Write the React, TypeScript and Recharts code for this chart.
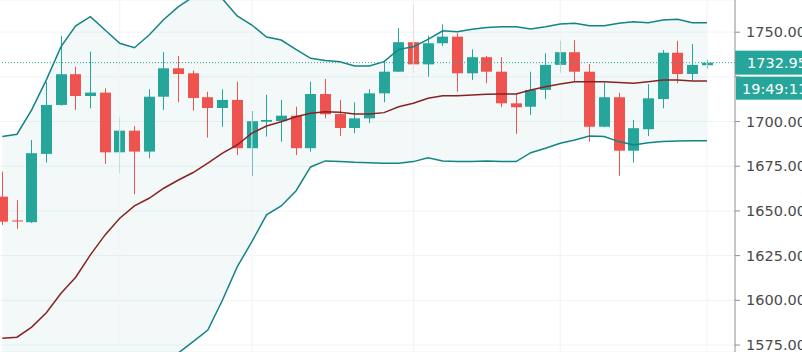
import {
  ComposedChart,
  Bar,
  Line,
  Area,
  XAxis,
  YAxis,
  CartesianGrid,
  ReferenceLine,
} from 'recharts';

// OHLC, one entry per candle
const opens = [
  1658.0, 1644.7, 1643.7, 1681.9, 1709.3, 1726.5, 1714.3, 1716.2, 1682.8, 1694.9,
  1683.2, 1713.9, 1729.8, 1727.0, 1713.6, 1707.6, 1712.1, 1685.1, 1699.9, 1700.3,
  1703.3, 1685.1, 1715.4, 1704.2, 1696.4, 1701.8, 1715.8, 1727.9, 1744.4, 1732.0,
  1743.8, 1747.5, 1727.0, 1736.0, 1727.9, 1710.2, 1708.3, 1717.7, 1731.7, 1738.8,
  1727.9, 1697.1, 1713.6, 1683.7, 1695.7, 1712.6, 1738.5, 1726.6, 1731.5,
];
const highs = [
  1672.0, 1656.1, 1689.7, 1722.1, 1747.9, 1730.7, 1739.1, 1718.6, 1702.7, 1697.5,
  1718.1, 1738.8, 1736.7, 1728.5, 1716.7, 1718.1, 1722.3, 1705.9, 1714.9, 1712.1,
  1708.3, 1722.3, 1723.8, 1712.1, 1710.8, 1718.1, 1733.5, 1752.2, 1765.2, 1748.0,
  1754.4, 1749.4, 1740.4, 1736.7, 1736.0, 1715.3, 1727.9, 1738.2, 1745.2, 1745.6,
  1732.2, 1721.8, 1716.2, 1700.9, 1720.9, 1740.0, 1745.2, 1743.4, 1734.5,
];
const lows = [
  1642.2, 1639.9, 1643.3, 1677.1, 1708.9, 1706.5, 1707.4, 1676.3, 1671.1, 1659.3,
  1679.5, 1706.5, 1710.8, 1706.1, 1691.0, 1697.1, 1681.3, 1669.6, 1691.6, 1688.8,
  1681.3, 1683.2, 1701.8, 1691.9, 1693.5, 1699.1, 1710.8, 1727.7, 1727.3, 1725.1,
  1742.3, 1716.7, 1723.3, 1721.4, 1708.0, 1693.1, 1703.7, 1712.5, 1727.3, 1722.3,
  1688.8, 1696.8, 1669.7, 1677.0, 1691.9, 1707.4, 1721.4, 1722.9, 1729.4,
];
const closes = [
  1644.0, 1644.1, 1682.3, 1709.3, 1726.5, 1714.3, 1716.2, 1682.8, 1694.9, 1683.2,
  1713.9, 1729.8, 1726.6, 1713.2, 1707.6, 1712.1, 1685.1, 1700.2, 1700.9, 1703.3,
  1685.1, 1715.4, 1704.1, 1696.4, 1701.8, 1715.8, 1727.9, 1744.4, 1732.0, 1743.8,
  1747.5, 1727.0, 1736.0, 1727.9, 1710.2, 1708.0, 1717.7, 1731.7, 1738.8, 1727.9,
  1697.1, 1713.6, 1683.7, 1696.3, 1713.0, 1738.5, 1726.6, 1731.7, 1732.95,
];

// Bollinger bands
const upperBand = [
  1691.6, 1692.9, 1706.5, 1723.3, 1741.9, 1753.5, 1758.7, 1751.2, 1743.8, 1741.3,
  1748.4, 1757.1, 1764.3, 1769.7, 1771.4, 1768.6, 1759.1, 1754.0, 1747.3, 1745.6,
  1740.4, 1735.4, 1734.1, 1733.5, 1731.1, 1731.1, 1733.5, 1740.4, 1741.9, 1746.0,
  1750.8, 1750.3, 1751.6, 1752.6, 1753.1, 1753.1, 1751.8, 1753.1, 1754.6, 1755.0,
  1753.6, 1753.6, 1755.0, 1755.9, 1755.3, 1756.8, 1757.2, 1755.3, 1755.3,
];
const basis = [
  1578.8, 1579.4, 1585.0, 1593.1, 1604.0, 1612.9, 1625.4, 1636.6, 1645.9, 1652.8,
  1657.1, 1662.7, 1667.3, 1671.5, 1676.7, 1682.3, 1686.9, 1693.5, 1697.5, 1699.9,
  1702.7, 1704.6, 1705.5, 1705.2, 1704.3, 1704.3, 1705.0, 1708.3, 1710.2, 1713.0,
  1714.5, 1714.5, 1714.9, 1715.3, 1715.4, 1715.4, 1717.7, 1719.5, 1721.0, 1722.3,
  1722.3, 1722.3, 1721.8, 1721.4, 1722.3, 1723.3, 1723.3, 1722.7, 1722.7,
];
const lowerBand = [
  1466.0, 1466.0, 1463.8, 1463.2, 1466.0, 1472.7, 1492.3, 1521.9, 1548.2, 1564.4,
  1566.1, 1568.9, 1570.6, 1576.9, 1583.4, 1600.2, 1618.7, 1632.8, 1647.8, 1652.8,
  1661.2, 1674.6, 1678.0, 1677.6, 1677.2, 1677.0, 1676.7, 1676.7, 1677.6, 1679.8,
  1678.0, 1677.6, 1677.6, 1678.0, 1677.6, 1677.6, 1682.6, 1685.1, 1687.9, 1689.7,
  1691.9, 1691.6, 1688.8, 1686.9, 1688.2, 1688.8, 1689.1, 1689.3, 1689.3,
];

const priceTicks = [1575, 1600, 1625, 1650, 1675, 1700, 1725, 1750];
const timeGridIdx = [8, 17, 28, 38, 48];
const lastPrice = 1732.95;
const countdown = '19:49:11';

const UP = '#26a69a';
const DOWN = '#ef5350';
const BAND = '#138484';
const BASIS = '#872323';
const GRID = '#f0f3f6';
const FONT = '"DejaVu Sans", Verdana, sans-serif';

const data = opens.map((o, i) => ({
  idx: i,
  open: o,
  high: highs[i],
  low: lows[i],
  close: closes[i],
  upper: upperBand[i],
  basis: basis[i],
  lower: lowerBand[i],
  range: [lows[i], highs[i]],
  band: [lowerBand[i], upperBand[i]],
}));

function Candle(props: any) {
  const { x, y, width, height, payload } = props;
  if (!payload || height == null) return null;
  const { open, close, high, low } = payload;
  const top = height < 0 ? y + height : y;
  const h = Math.abs(height);
  const k = high === low ? 0 : h / (high - low);
  const yO = top + (high - open) * k;
  const yC = top + (high - close) * k;
  const color = close >= open ? UP : DOWN;
  const cx = Math.floor(x + width / 2);
  const bodyTop = Math.min(yO, yC);
  const bodyH = Math.max(1, Math.abs(yC - yO));
  return (
    <g>
      <rect x={cx} y={top} width={1} height={h} fill={color} />
      <rect x={cx - 5} y={bodyTop} width={11} height={bodyH} fill={color} />
    </g>
  );
}

// price labels; the one hidden under the last-price tag is skipped
function PriceTick(props: any) {
  const { x, y, payload } = props;
  if (Math.abs(payload.value - lastPrice) < 10) return null;
  return (
    <text x={x} y={y} dy="0.355em" fill="#4a4a4a" fontSize={14.5} fontFamily={FONT} textAnchor="start">
      {payload.value.toFixed(2)}
    </text>
  );
}

function PriceTag(props: any) {
  const vb = props.viewBox;
  if (!vb) return null;
  const x0 = vb.x + vb.width;
  const yy = vb.y;
  return (
    <g>
      <rect x={x0} y={yy - 12} width={70} height={24} fill={UP} />
      <text x={x0 + 12} y={yy + 0.5} fill="#fff" fontSize={14.5} fontFamily={FONT} dominantBaseline="central">
        {lastPrice.toFixed(2)}
      </text>
      <rect x={x0 + 1} y={yy + 14} width={70} height={23} fill={UP} />
      <text x={x0 + 7} y={yy + 26.5} fill="#fff" fontSize={14.5} fontFamily={FONT} dominantBaseline="central">
        {countdown}
      </text>
    </g>
  );
}

export default function App() {
  return (
    <div style={{ position: 'absolute', left: 0, top: 0, background: '#fff' }}>
      <ComposedChart
        width={802}
        height={352}
        data={data}
        margin={{ top: 0, right: 0, bottom: 0, left: 0 }}
      >
        <CartesianGrid stroke={GRID} vertical={false} />
        {timeGridIdx.map((i) => (
          <ReferenceLine key={i} x={i} stroke={GRID} strokeWidth={1} />
        ))}
        <XAxis
          dataKey="idx"
          type="number"
          domain={[-0.157, 49.91]}
          allowDataOverflow
          hide
        />
        <YAxis
          orientation="right"
          width={67}
          domain={[1571.1, 1768.0]}
          allowDataOverflow
          ticks={priceTicks}
          interval={0}
          tick={<PriceTick />}
          tickSize={5}
          tickMargin={6}
          axisLine={{ stroke: '#8a8e96' }}
          tickLine={{ stroke: '#8a8e96' }}
        />
        <Area
          dataKey="band"
          stroke="none"
          fill="#198787"
          fillOpacity={0.05}
          isAnimationActive={false}
          dot={false}
          activeDot={false}
        />
        <Line dataKey="upper" stroke={BAND} strokeWidth={1.5} dot={false} activeDot={false} isAnimationActive={false} />
        <Line dataKey="lower" stroke={BAND} strokeWidth={1.5} dot={false} activeDot={false} isAnimationActive={false} />
        <Line dataKey="basis" stroke={BASIS} strokeWidth={1.5} dot={false} activeDot={false} isAnimationActive={false} />
        <Bar dataKey="range" barSize={11} shape={Candle} isAnimationActive={false} />
        <ReferenceLine
          y={lastPrice}
          stroke={UP}
          strokeDasharray="1 2"
          label={<PriceTag />}
        />
      </ComposedChart>
    </div>
  );
}
